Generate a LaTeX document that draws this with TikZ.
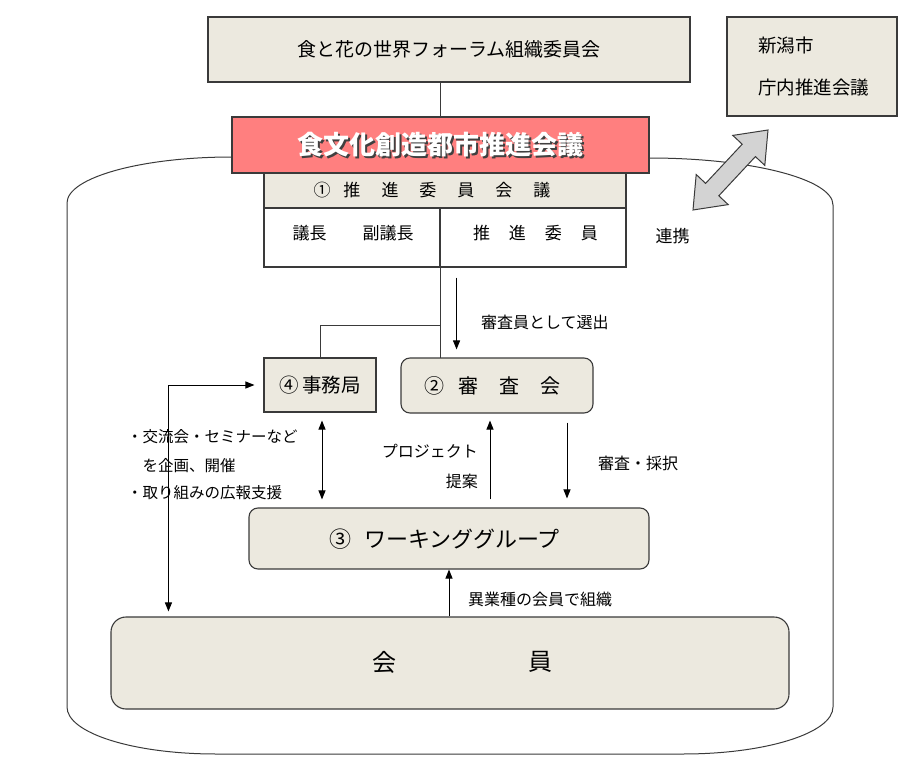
\documentclass[tikz,border=0pt]{standalone}
\usepackage{fontspec}
\setmainfont{Noto Sans CJK JP}
\usetikzlibrary{arrows.meta,calc}
\definecolor{beige}{HTML}{ECE9DF}
\definecolor{edge}{HTML}{3A3A3A}
\definecolor{salmon}{HTML}{FF7F7F}
\definecolor{blockgray}{HTML}{D3D3D3}
\newcommand\fs[1]{\fontsize{#1}{#1}\selectfont}
\begin{document}
\begin{tikzpicture}[x=1pt,y=-1pt,
  box/.style={draw=edge, line width=1.1pt, fill=beige, inner sep=0pt},
  rbox/.style={box, rounded corners=9pt},
  plain/.style={draw=edge, line width=1.1pt, inner sep=0pt},
  txt/.style={inner sep=0pt, text=black, font=\fs{16}},
  ln/.style={draw=edge, line width=1pt},
  tip/.style={},
  arr/.style={draw=black, line width=1pt, -{Triangle[length=9pt,width=7pt]}},
  darr/.style={draw=black, line width=1pt, {Triangle[length=9pt,width=7pt]}-{Triangle[length=9pt,width=7pt]}},
]
\useasboundingbox (0,0) rectangle (906,768);

% container
\draw[ln] (232,157) .. controls (140.9,157) and (67,177.6) .. (67,203)
  -- (67,707) .. controls (67,733) and (133,754) .. (216,754)
  -- (683,754) .. controls (766,754) and (833,733) .. (833,707)
  -- (833,205) .. controls (833,179) and (750.6,158) .. (649,158);

% boxes
\node[box, minimum width=482pt, minimum height=65pt] (forum) at (449,49.5) {};
\node[txt, font=\fs{19}] (forumt) at (forum.center) {食と花の世界フォーラム組織委員会};

\node[box, minimum width=170pt, minimum height=99pt] (niigata) at (812,66.5) {};
\node[txt, font=\fs{18.5}, anchor=west] (niigata1) at (758,45) {新潟市};
\node[txt, font=\fs{18.5}, anchor=west] (niigata2) at (758,88) {庁内推進会議};

\node[box, minimum width=362pt, minimum height=35pt] (head) at (445,190.5) {};
\node[plain, minimum width=176pt, minimum height=59pt] (bodyL) at (352,237.5) {};
\node[plain, minimum width=186pt, minimum height=59pt] (bodyR) at (533,237.5) {};

% connecting lines
\draw[ln] (forum.south -| bodyL.east) -- (head.north -| bodyL.east);
\draw[ln] (bodyL.south east) -- (bodyL.south east |- 0,358);
\draw[ln] ($(bodyL.south east)+(0,58)$) -| (320,358);

\node[box, fill=salmon, minimum width=417pt, minimum height=56pt] (red) at (440.5,145) {};
\node[txt, font=\fs{26}\bfseries, text=black!75] (redshadow) at ($(red.center)+(1.6,1.6)$) {食文化創造都市推進会議};
\node[txt, font=\fs{26}\bfseries, text=white] (redt) at (red.center) {食文化創造都市推進会議};

\node[txt, font=\fs{17}] (headt) at (432,190.5) {①\hspace{13pt}推\hspace{21pt}進\hspace{21pt}委\hspace{21pt}員\hspace{21pt}会\hspace{21pt}議};
\node[txt, font=\fs{17}] (chair) at (309.5,233) {議長};
\node[txt, font=\fs{17}] (vchair) at (388,233) {副議長};
\node[txt, font=\fs{17}] (members) at (535.5,233) {推\hspace{19pt}進\hspace{19pt}委\hspace{19pt}員};
\node[txt, font=\fs{17}] (renkei) at (672.5,236) {連携};

\node[box, minimum width=112pt, minimum height=54pt] (jimu) at (320,385) {};
\node[txt, font=\fs{19.5}] (jimut) at (jimu.center) {④\hspace{4pt}事務局};
\node[rbox, minimum width=192pt, minimum height=55pt] (shinsa) at (497,385.5) {};
\node[txt, font=\fs{20}] (shinsat) at (492,385.5) {②\hspace{14pt}審\hspace{21pt}査\hspace{21pt}会};

\node[rbox, minimum width=400pt, minimum height=61pt] (wg) at (449,538.5) {};
\node[txt, font=\fs{22}] (wgt) at (444.5,539) {③\hspace{13pt}ワーキンググループ};

\node[box, rounded corners=15pt, minimum width=678pt, minimum height=92pt] (member) at (450,663) {};
\node[txt, font=\fs{24}] (kai) at (384,662) {会};
\node[txt, font=\fs{24}] (in) at (540,662) {員};

% arrows
\draw[arr] ($(bodyL.south east)+(16,10)$) -- ($(bodyL.south east |- shinsa.north)+(16,-8)$);
\node[txt, anchor=west] (selt) at (481,322) {審査員として選出};

\draw[darr] ($(jimu.south)+(2,8)$) -- ($(jimu.south |- wg.north)+(2,-8)$);
\draw[arr] ($(wg.north)+(41,-8)$) -- ($(wg.north |- shinsa.south)+(41,7)$);
\node[txt, anchor=east] (prop1) at (478,451) {プロジェクト};
\node[txt, anchor=east] (prop2) at (478,481) {提案};
\draw[arr] ($(shinsa.south)+(70,9)$) -- ($(shinsa.south |- wg.north)+(70,-9)$);
\node[txt, anchor=west] (adopt) at (598,463) {審査・採択};

\draw[arr] (member.north -| wg.south) -- (wg.south);
\node[txt, anchor=west] (org) at (468,599) {異業種の会員で組織};

\draw[darr] ($(jimu.west)+(-9,0)$) -| ($(member.north west)+(58,-5)$);
\node[txt, font=\fs{15.5}, anchor=west] (b1) at (127,437) {・交流会・セミナーなど};
\node[txt, font=\fs{15.5}, anchor=west] (b2) at (142.5,466) {を企画、開催};
\node[txt, font=\fs{15.5}, anchor=west] (b3) at (127,493) {・取り組みの広報支援};

% block double arrow (renkei)
\draw[draw=edge, fill=blockgray, line width=1pt, line join=miter]
  (693,210) -- (728.2,204.6) -- (718.8,195.8) -- (755.4,156.6) -- (764.8,165.4)
  -- (768,130) -- (732.8,135.4) -- (742.2,144.2) -- (705.6,183.4) -- (696.2,174.5) -- cycle;
\end{tikzpicture}
\end{document}
